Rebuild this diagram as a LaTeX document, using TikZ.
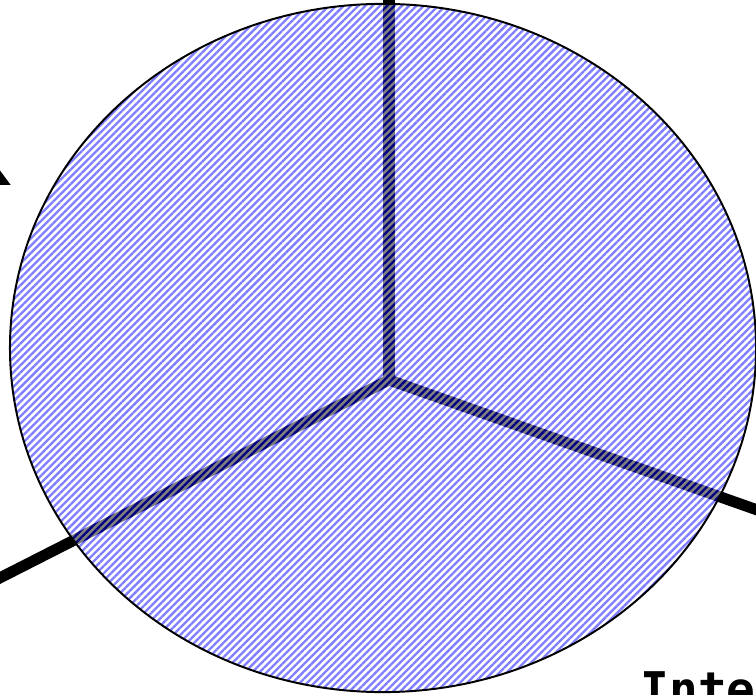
\documentclass[tikz,border=0pt]{standalone}
\usepackage{fontspec}
\newfontfamily\labelfont{DejaVu Sans Mono}
\usetikzlibrary{patterns.meta}

\begin{document}
\begin{tikzpicture}[x=0.408pt,y=-0.408pt]
    \useasboundingbox (0,0) rectangle (756,695);

    % Axes (drawn first, the disk lies over them)
    \coordinate (O) at (389,380);
    \coordinate (zend) at (389,-20);
    \coordinate (xend) at (-20,588);
    \coordinate (yend) at (780,518);
    \draw[line width=4.5pt] (O) -- (zend);
    \draw[line width=4.5pt] (O) -- (xend);
    \draw[line width=4.5pt] (O) -- (yend);

    % Tip cut at the left edge
    \fill (0,170.5) -- (10.7,185) -- (0,185) -- cycle;

    % Hatched disk, half transparent
    \coordinate (C) at (383,348);
    \begin{scope}[transparency group,opacity=0.5]
      \fill[white] (C) ellipse [x radius=152.2pt,y radius=140.4pt];
      \fill[pattern={Lines[angle=45,distance=2.1pt,line width=0.95pt]},pattern color=blue]
        (C) ellipse [x radius=152.2pt,y radius=140.4pt];
    \end{scope}
    \draw[line width=0.8pt] (C) ellipse [x radius=152.2pt,y radius=140.4pt];

    % Label
    \node[anchor=base west,inner sep=0pt,font=\labelfont\bfseries\fontsize{19.5}{23}\selectfont]
      (lab) at (640,707) {Inte};
\end{tikzpicture}
\end{document}
